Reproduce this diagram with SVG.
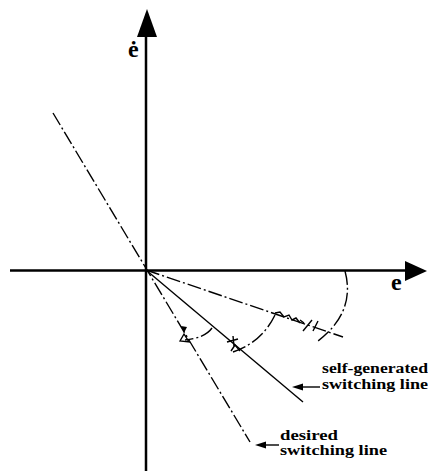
<svg xmlns="http://www.w3.org/2000/svg" width="428" height="471" viewBox="0 0 428 471">
<style>
.axis{stroke:#000;stroke-width:2.5;fill:none}
.dd{stroke:#000;stroke-width:1.4;fill:none;stroke-dasharray:14 3 2 3}
.solid{stroke:#000;stroke-width:1.4;fill:none}
.mark{stroke:#000;stroke-width:1.4;fill:none}
.head{fill:#000}
.lbl{font-family:"Liberation Serif",serif;font-weight:bold;fill:#000}
</style>
<g id="axes">
<line class="axis" x1="146" y1="30" x2="146" y2="471"/>
<polygon class="head" points="137,37 157,37 147,9"/>
<line class="axis" x1="10" y1="270.5" x2="410" y2="270.5"/>
<polygon class="head" points="405,261 427,271 405,281"/>
<text class="lbl" x="128" y="57" font-size="24">ė</text>
<text class="lbl" x="391" y="290" font-size="24">e</text>
</g>
<g id="connectors">
<line class="dd" x1="53" y1="113" x2="250" y2="442"/>
<line class="solid" x1="146" y1="270" x2="303" y2="402"/>
<line class="dd" x1="146" y1="270" x2="343" y2="337"/>
<path class="dd" d="M212,328 Q205,338 185,340"/>
<path class="dd" d="M275,315 Q262,342 233,352"/>
<path class="dd" d="M345,271 Q356,312 318,341"/>
<line class="solid" x1="320" y1="387" x2="300" y2="387"/>
<polygon class="head" points="292,387 303,383.5 303,390.5"/>
<line class="solid" x1="279" y1="445" x2="263" y2="445"/>
<polygon class="head" points="255,445 266,441.5 266,448.5"/>
</g>
<g id="marks">
<polygon class="head" points="181,326 187,327 184,333"/>
<path class="mark" d="M180,341 L184,334 L189,342 Z"/>
<path class="mark" d="M227,342 L238,339 M233,336 L234,346"/>
<path class="mark" d="M231,351 L235,345 L240,351"/>
<polyline class="mark" points="275,313 280,312 284,317 289,315 292,320 296,318 300,323"/>
<path class="mark" d="M300,320 L304,323 M303,331 L312,320 M313,331 L318,321"/>
</g>
<g id="labels">
<text class="lbl" x="322" y="373" font-size="15" textLength="106" lengthAdjust="spacingAndGlyphs">self-generated</text>
<text class="lbl" x="322" y="389" font-size="15" textLength="106" lengthAdjust="spacingAndGlyphs">switching line</text>
<text class="lbl" x="280" y="440" font-size="15" textLength="58" lengthAdjust="spacingAndGlyphs">desired</text>
<text class="lbl" x="280" y="455" font-size="15" textLength="107" lengthAdjust="spacingAndGlyphs">switching line</text>
</g>
</svg>
